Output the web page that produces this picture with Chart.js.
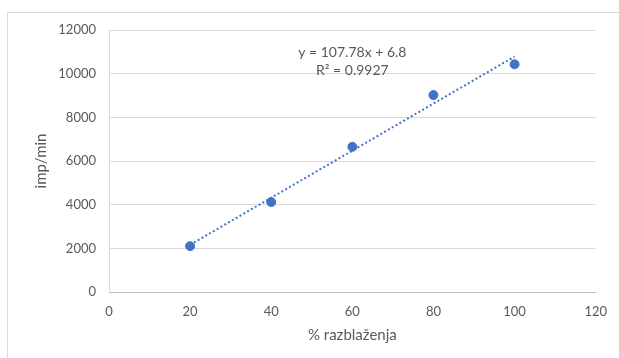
<!DOCTYPE html>
<html lang="sr">
<head>
  <meta charset="UTF-8" />
  <title>imp/min vs % razblaženja</title>
  <script src="https://cdn.jsdelivr.net/npm/chart.js"></script>
  <style>
    body {
      margin: 0;
      background: #fff;
      font-family: Lato, sans-serif;
    }
    .frame {
      position: absolute;
      left: 7px;
      top: 12px;
      width: 700px;
      height: 400px;
      border: 1px solid #d9d9d9;
    }
    .wrap {
      position: absolute;
      left: 0;
      top: 0;
      width: 619px;
      height: 358px;
    }
  </style>
</head>
<body>
  <div class="frame"></div>
  <div class="wrap"><canvas id="chart"></canvas></div>
  <script>
    // measured points
    const dilution = [20, 40, 60, 80, 100];
    const impMin = [2100, 4120, 6650, 9020, 10430];

    // trendline as printed on the chart
    const slope = 107.78;
    const intercept = 6.8;
    const r2 = 0.9927;
    const trendX = [20, 100];

    const blue = '#4472C4';
    const grey = '#595959';

    // equation label, placed in data coordinates
    const equationLabel = {
      id: 'equationLabel',
      afterDatasetsDraw(chart) {
        const { ctx, scales: { x, y } } = chart;
        ctx.save();
        ctx.fillStyle = grey;
        ctx.font = '14px Lato';
        ctx.textAlign = 'center';
        ctx.textBaseline = 'middle';
        ctx.fillText('y = ' + slope + 'x + ' + intercept, x.getPixelForValue(60), y.getPixelForValue(10950));
        ctx.fillText('R² = ' + r2, x.getPixelForValue(60), y.getPixelForValue(10130));
        ctx.restore();
      }
    };

    new Chart(document.getElementById('chart'), {
      type: 'scatter',
      data: {
        datasets: [
          {
            label: 'imp/min',
            data: dilution.map((d, i) => ({ x: d, y: impMin[i] })),
            backgroundColor: blue,
            borderColor: blue,
            pointRadius: 4.5,
            pointHoverRadius: 4.5,
            order: 1
          },
          {
            label: 'trend',
            type: 'line',
            data: trendX.map(t => ({ x: t, y: slope * t + intercept })),
            borderColor: blue,
            borderWidth: 2,
            borderDash: [2, 2.4],
            pointRadius: 0,
            fill: false,
            order: 2
          }
        ]
      },
      options: {
        responsive: true,
        maintainAspectRatio: false,
        animation: false,
        layout: { padding: { top: 30, right: 20, bottom: 0, left: 0 } },
        plugins: {
          legend: { display: false },
          tooltip: { enabled: false }
        },
        scales: {
          x: {
            type: 'linear',
            min: 0,
            max: 120,
            ticks: {
              stepSize: 20, color: grey, font: { family: 'Lato', size: 13 }, padding: 12,
              callback: v => String(v)
            },
            grid: { display: false, drawTicks: false },
            border: { color: '#bfbfbf', width: 1 },
            title: {
              display: true,
              text: '% razblaženja',
              color: grey,
              font: { family: 'Lato', size: 15 },
              padding: { top: 0, bottom: 14 }
            },
            afterFit(scale) { scale.height = 66; }
          },
          y: {
            min: 0,
            max: 12000,
            ticks: {
              stepSize: 2000, color: grey, font: { family: 'Lato', size: 13 }, padding: 13,
              callback: v => String(v)
            },
            grid: { color: '#d9d9d9', drawTicks: false },
            border: { color: '#d9d9d9', width: 1 },
            title: {
              display: true,
              text: 'imp/min',
              color: grey,
              font: { family: 'Lato', size: 15 },
              padding: { top: 32, bottom: 0 }
            },
            afterFit(scale) { scale.width = 109; }
          }
        }
      },
      plugins: [equationLabel]
    });
  </script>
</body>
</html>
